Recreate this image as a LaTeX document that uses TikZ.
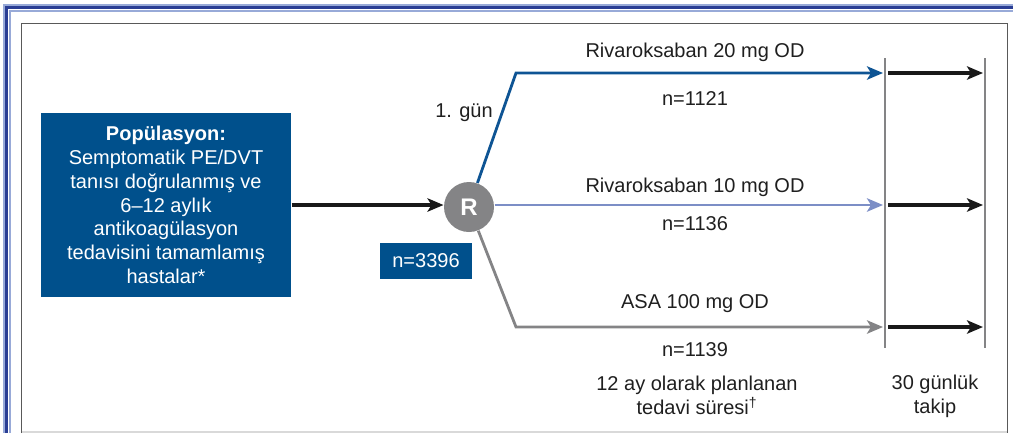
\documentclass[tikz,border=0pt]{standalone}
\usepackage{fontspec}
\setmainfont{Liberation Sans}
\usetikzlibrary{arrows.meta}

\definecolor{popblue}{RGB}{0,80,140}
\definecolor{armblue}{RGB}{14,84,148}
\definecolor{armlight}{RGB}{124,142,198}
\definecolor{armgray}{RGB}{132,132,134}
\definecolor{framedark}{RGB}{42,62,148}
\definecolor{framelight}{RGB}{152,170,216}

\tikzset{every picture/.style={line width=0.75pt}}
\tikzset{
  lbl/.style={font=\fontsize{15}{17.8}\selectfont, text=black!88, align=center, inner sep=0pt},
  popbox/.style={fill=popblue, text=white, align=center, inner sep=0pt,
    minimum width=187.5pt, minimum height=138pt, font=\fontsize{15}{17.8}\selectfont},
  nbox/.style={fill=popblue, text=white, inner sep=0pt,
    minimum width=69pt, minimum height=27pt, font=\fontsize{15}{17.8}\selectfont},
  rnode/.style={circle, fill=armgray, text=white, inner sep=0pt, minimum size=37.5pt,
    font=\fontsize{18}{20}\selectfont\bfseries},
  arm/.style={line width=2.1pt, -{Stealth[length=12pt, width=10pt, inset=3pt]}},
  flow/.style={line width=2.4pt, black!90, -{Stealth[length=12pt, width=10pt, inset=3pt]}},
  vline/.style={line width=2.2pt, armgray}
}

\begin{document}
\begin{tikzpicture}[x=0.75pt,y=0.75pt,yscale=-1,xscale=1]
	\useasboundingbox (0,0) rectangle (1013,433);

	%Frame
	\draw [framelight, line width=0.8pt] (4,433) -- (4,5) -- (1013,5) ;
	\draw [framedark, line width=2.2pt] (6.5,433) -- (6.5,7.5) -- (1013,7.5) ;
	\draw [framelight, line width=0.9pt] (10,433) -- (10,11) -- (1013,11) ;
	\draw [black!15, line width=1.2pt] (21.5,432) -- (1007.5,432) ;
	\draw [black!65, line width=1.3pt] (21.5,433) -- (21.5,23.5) -- (1007.5,23.5) -- (1007.5,433) ;

	%Nodes
	\node [popbox] (pop) at (166,205) {\textbf{Popülasyon:}\\Semptomatik PE/DVT\\tanısı doğrulanmış ve\\6–12 aylık\\antikoagülasyon\\tedavisini tamamlamış\\hastalar*};
	\node [rnode] (R) at (469,207) {R};
	\node [nbox] (ntot) at (426,261) {n=3396};

	%Coordinates
	\coordinate (k1) at (516,73) ;
	\coordinate (k3) at (516,327) ;
	\coordinate (e1) at (883,73) ;
	\coordinate (e2) at (883,205) ;
	\coordinate (e3) at (883,327) ;
	\coordinate (v1t) at (885,58) ;
	\coordinate (v1b) at (885,348) ;
	\coordinate (v2t) at (985,58) ;
	\coordinate (v2b) at (985,348) ;
	\coordinate (f1) at (983,73) ;
	\coordinate (f2) at (983,205) ;
	\coordinate (f3) at (983,327) ;

	%Straight Lines
	\draw [flow] (pop.east |- 0,205) -- (R.west |- 0,205) ;
	\draw [arm, armblue] (R) -- (k1) -- (e1) ;
	\draw [arm, armlight] (R.east |- 0,205) -- (e2) ;
	\draw [arm, armgray] (R) -- (k3) -- (e3) ;
	\draw [vline] (v1t) -- (v1b) ;
	\draw [vline] (v2t) -- (v2b) ;
	\draw [flow] (v1t |- f1) ++(3,0) -- (f1) ;
	\draw [flow] (v1t |- f2) ++(3,0) -- (f2) ;
	\draw [flow] (v1t |- f3) ++(3,0) -- (f3) ;

	% Text Node
	\node [lbl] (day) at (464,113) {1. gün};
	% Text Node
	\node [lbl] (arm1) at (695,52) {Rivaroksaban 20 mg OD};
	% Text Node
	\node [lbl] (n1) at (695,99) {n=1121};
	% Text Node
	\node [lbl] (arm2) at (695,187) {Rivaroksaban 10 mg OD};
	% Text Node
	\node [lbl] (n2) at (695,224) {n=1136};
	% Text Node
	\node [lbl] (arm3) at (695,304) {ASA 100 mg OD};
	% Text Node
	\node [lbl] (n3) at (695,350) {n=1139};
	% Text Node
	\node [lbl] (dur) at (697,395) {12 ay olarak planlanan\\tedavi süresi\textsuperscript{†}};
	% Text Node
	\node [lbl] (fu) at (935,396) {30 günlük\\takip};

\end{tikzpicture}
\end{document}
